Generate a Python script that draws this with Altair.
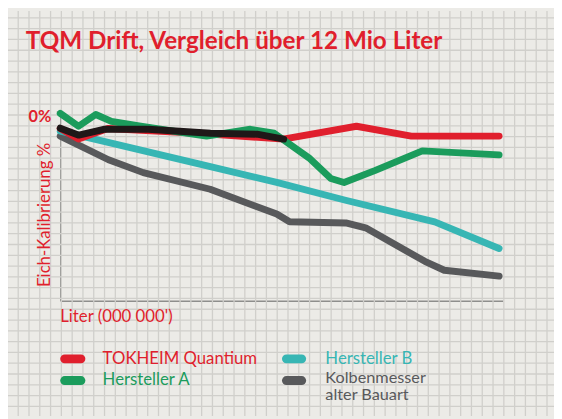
import altair as alt
import pandas as pd
import numpy as np

FONT = "Lato"
RED = "#e01f2d"
GREEN = "#1b9c5c"
TEAL = "#37b6b4"
GRAY = "#58595b"
BLACK = "#1f1818"
BG = "#ecebe7"
GRID = "#d0cfcb"
AXIS = "#8e8e8c"

title_text = "TQM Drift, Vergleich über 12 Mio Liter"
y_title = "Eich-Kalibrierung %"
x_title = "Liter (000 000')"
zero_label = "0%"

# Liter in Mio, drift in relative units (0 = 0 %)
red_x = [0, 0.5, 1.3, 3.8, 6.1, 8.1, 9.6, 12]
red_y = [-0.09, -0.145, -0.09, -0.115, -0.146, -0.078, -0.13, -0.13]

green_x = [0, 0.5, 0.97, 1.4, 2.2, 4.0, 5.2, 5.85, 6.8, 7.4, 7.76, 8.6, 9.9, 12]
green_y = [-0.01, -0.078, -0.016, -0.052, -0.078, -0.13, -0.094, -0.115, -0.245, -0.354, -0.375, -0.3125, -0.208, -0.229]

teal_x = [0, 1.05, 3.76, 5.92, 7.8, 10.24, 12]
teal_y = [-0.104, -0.151, -0.276, -0.375, -0.469, -0.583, -0.724]

gray_x = [0, 1.32, 2.27, 4.1, 5.92, 6.27, 7.81, 8.35, 9.97, 10.5, 12]
gray_y = [-0.130, -0.255, -0.323, -0.411, -0.542, -0.583, -0.589, -0.615, -0.792, -0.839, -0.870]

black_x = [0, 0.51, 1.19, 2.41, 4.11, 5.38, 6.11]
black_y = [-0.088, -0.125, -0.094, -0.094, -0.115, -0.120, -0.146]

legend_labels = ["TOKHEIM Quantium", "Hersteller A", "Hersteller B", "Kolbenmesser", "alter Bauart"]

xscale = alt.Scale(domain=[0, 12.1], nice=False, zero=False)
yscale = alt.Scale(domain=[-1, 0], nice=False, zero=False)

# background grid paper (pixel positions relative to plot origin)
gx = pd.DataFrame({"gx": np.arange(-53.6, 502, 10.95)})
gy = pd.DataFrame({"gy": np.arange(-95.0, 310, 10.95)})
grid_v = alt.Chart(gx).mark_rule(color=GRID, strokeWidth=1.3).encode(
    x=alt.X("gx:Q", scale=None, axis=None), y=alt.value(-102), y2=alt.value(309))
grid_h = alt.Chart(gy).mark_rule(color=GRID, strokeWidth=1.3).encode(
    y=alt.Y("gy:Q", scale=None, axis=None), x=alt.value(-53), x2=alt.value(501))


def series(xs, ys, color, axes=False):
    df = pd.DataFrame({"liter": xs, "drift": ys})
    if axes:
        xa = alt.Axis(title=None, labels=False, ticks=False, grid=False,
                      domainColor=AXIS, domainWidth=1.5)
        ya = alt.Axis(title=None, labels=False, grid=False, values=[0], tickSize=4,
                      tickColor=AXIS, tickWidth=1.5, domainColor=AXIS, domainWidth=1.5)
    else:
        xa = None
        ya = None
    xenc = alt.X("liter:Q", scale=xscale, axis=xa)
    yenc = alt.Y("drift:Q", scale=yscale, axis=ya)
    return alt.Chart(df).mark_line(strokeWidth=7, strokeCap="round", strokeJoin="round",
                                   color=color).encode(x=xenc, y=yenc)


def text_layer(txt, x, y, color, size, weight="normal", align="left", angle=0):
    kw = dict(align=align, baseline="middle", font=FONT, fontSize=size,
              fontWeight=weight, color=color)
    if angle:
        kw["angle"] = angle
    return alt.Chart(pd.DataFrame({"t": [txt]})).mark_text(**kw).encode(
        x=alt.value(x), y=alt.value(y), text="t:N")


def swatch(x1, x2, y, color):
    return alt.Chart(pd.DataFrame({"s": [color]})).mark_rule(
        strokeWidth=9, strokeCap="round", color=color).encode(
        x=alt.value(x1), x2=alt.value(x2), y=alt.value(y))


layers = [
    grid_v, grid_h,
    series(gray_x, gray_y, GRAY, axes=True),
    series(teal_x, teal_y, TEAL),
    series(red_x, red_y, RED),
    series(green_x, green_y, GREEN),
    series(black_x, black_y, BLACK),
    text_layer(title_text, -35, -70, RED, 24.6, weight="bold"),
    text_layer(zero_label, -9, 6, RED, 16.5, weight="bold", align="right"),
    text_layer(y_title, -15.5, 105, RED, 17, align="center", angle=270),
    text_layer(x_title, 0, 208.5, RED, 17),
    swatch(4.5, 21, 251, RED),
    swatch(4.5, 21, 273, GREEN),
    swatch(229.5, 245, 251, TEAL),
    swatch(229.5, 245, 273, GRAY),
    text_layer(legend_labels[0], 43, 251, RED, 17),
    text_layer(legend_labels[1], 43, 273, GREEN, 17),
    text_layer(legend_labels[2], 269, 251, TEAL, 17),
    text_layer(legend_labels[3], 269, 270, GRAY, 16.5),
    text_layer(legend_labels[4], 269, 288, GRAY, 16.5),
]

chart = alt.layer(*layers).resolve_scale(
    x="independent", y="independent"
).properties(
    width=449, height=192,
    autosize=alt.AutoSizeParams(type="none"),
    padding={"left": 53, "top": 102, "right": 52, "bottom": 117},
    background=BG,
).configure_view(stroke=None)

chart.save("out.html", embed_options={"renderer": "svg", "actions": False})
